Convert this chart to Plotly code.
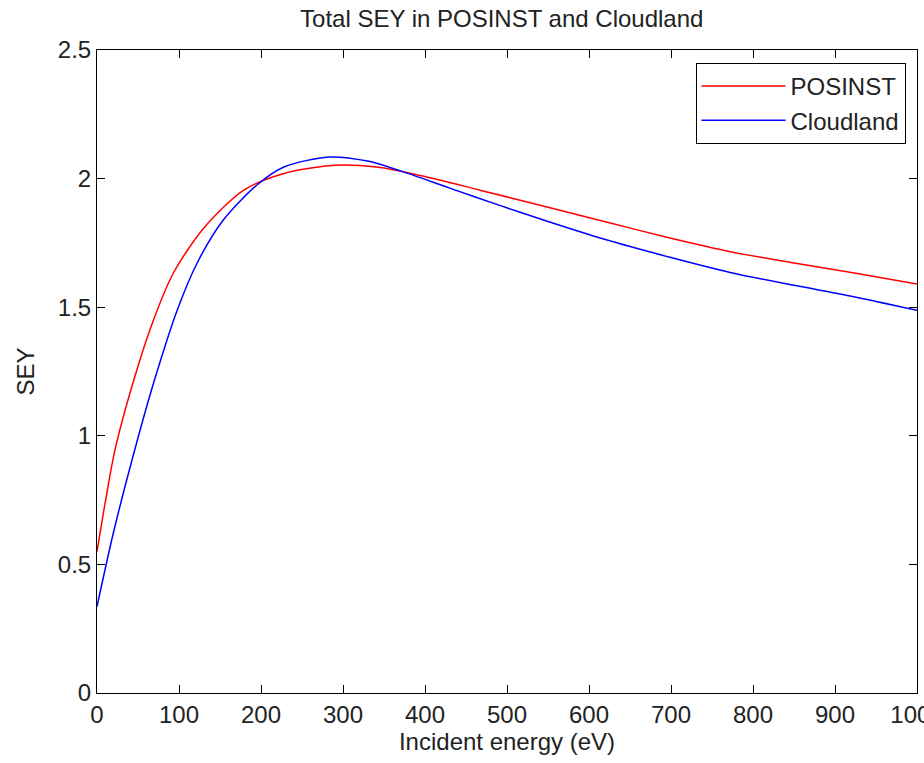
import plotly.graph_objects as go

posinst_E = [0, 10, 22, 45, 69, 93, 130, 179, 228, 290, 341, 400, 467, 550, 620, 700, 772, 850, 920, 1000]
posinst_Y = [0.55, 0.74, 0.946, 1.218, 1.451, 1.632, 1.807, 1.955, 2.02, 2.052, 2.045, 2.008, 1.955, 1.889, 1.832, 1.768, 1.716, 1.672, 1.635, 1.59]

cloud_E = [0, 20, 45, 69, 98, 122, 154, 195, 228, 283, 330, 370, 431, 492, 550, 620, 700, 772, 850, 920, 1000]
cloud_Y = [0.336, 0.623, 0.933, 1.205, 1.49, 1.671, 1.839, 1.975, 2.045, 2.084, 2.068, 2.03, 1.962, 1.895, 1.833, 1.763, 1.693, 1.635, 1.585, 1.543, 1.488]

x_ticks = [0, 100, 200, 300, 400, 500, 600, 700, 800, 900, 1000]
y_ticks = [0, 0.5, 1, 1.5, 2, 2.5]
y_tick_labels = ["0", "0.5", "1", "1.5", "2", "2.5"]

FONT = "Liberation Sans, Arial, sans-serif"
FS = 24

fig = go.Figure()
fig.add_trace(go.Scatter(x=posinst_E, y=posinst_Y, mode="lines", name="POSINST",
                         line=dict(color="#ff0000", width=1.5, shape="spline", smoothing=0.8)))
fig.add_trace(go.Scatter(x=cloud_E, y=cloud_Y, mode="lines", name="Cloudland",
                         line=dict(color="#0000ff", width=1.5, shape="spline", smoothing=0.8)))

axis_common = dict(showgrid=False, zeroline=False, showline=True, linecolor="black", linewidth=1,
                   mirror="ticks", ticks="inside", ticklen=8, tickcolor="black",
                   ticklabeloverflow="allow", automargin=False,
                   tickfont=dict(family=FONT, size=FS, color="#222"))

fig.update_xaxes(range=[0, 1000], tickvals=x_ticks, ticktext=[str(v) for v in x_ticks],
                 title=dict(text="Incident energy (eV)", font=dict(family=FONT, size=FS, color="#222"), standoff=6),
                 **axis_common)
fig.update_yaxes(range=[0, 2.5], tickvals=y_ticks, ticktext=y_tick_labels,
                 title=dict(text="SEY", font=dict(family=FONT, size=FS, color="#222"), standoff=16),
                 **axis_common)

fig.update_layout(
    width=924, height=763,
    margin=dict(l=97, r=7, t=50, b=70),
    paper_bgcolor="white", plot_bgcolor="white",
    title=dict(text="Total SEY in POSINST and Cloudland", x=0.543, xanchor="center", y=0.975, yanchor="middle",
               font=dict(family=FONT, size=FS, color="#222")),
    legend=dict(x=0.986, y=0.98, xanchor="right", yanchor="top", bordercolor="black", borderwidth=1,
                bgcolor="white", font=dict(family=FONT, size=FS, color="#222"), itemwidth=84,
                tracegroupgap=0),
    showlegend=True,
)

fig.write_html("out.html")
